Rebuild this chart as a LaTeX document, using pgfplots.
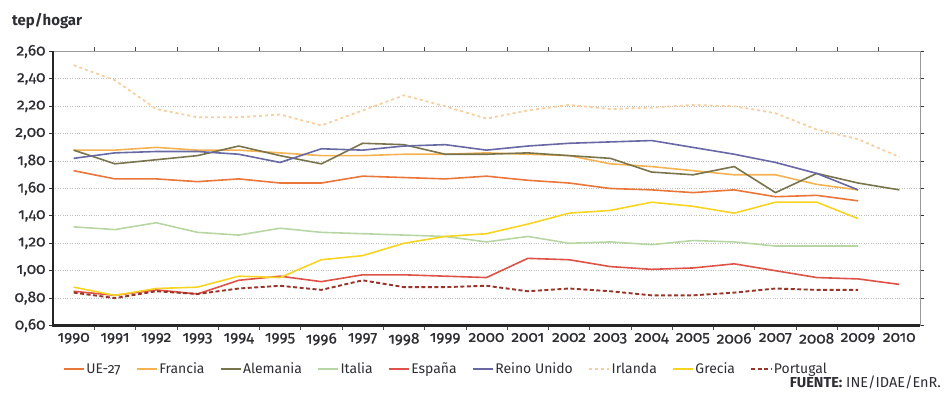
\documentclass[border=0pt]{standalone}
\usepackage{fontspec}
\setmainfont{Fira Sans}[Numbers=OldStyle]
\newfontfamily\tickfont{Fira Sans}[Numbers=OldStyle, FakeBold=0.6]
\usepackage{pgfplots}
\usepackage{pgfplotstable}
\pgfplotsset{compat=1.18}

\definecolor{cUE}{RGB}{234,118,58}
\definecolor{cFR}{RGB}{246,178,82}
\definecolor{cDE}{RGB}{122,116,76}
\definecolor{cIT}{RGB}{184,214,164}
\definecolor{cES}{RGB}{222,82,72}
\definecolor{cUK}{RGB}{104,104,164}
\definecolor{cIE}{RGB}{249,206,160}
\definecolor{cGR}{RGB}{248,212,34}
\definecolor{cPT}{RGB}{152,52,40}
\definecolor{txt}{RGB}{45,45,52}

% Consumo de energia por hogar (tep/hogar)
\pgfplotstableread{
year UE27 Francia Alemania Italia Espana ReinoUnido Irlanda Grecia Portugal
1990 1.73 1.88 1.88 1.32 0.85 1.82 2.50 0.88 0.84
1991 1.67 1.88 1.78 1.30 0.82 1.86 2.39 0.82 0.80
1992 1.67 1.90 1.81 1.35 0.86 1.87 2.18 0.87 0.85
1993 1.65 1.88 1.84 1.28 0.83 1.87 2.12 0.88 0.83
1994 1.67 1.88 1.91 1.26 0.93 1.85 2.12 0.96 0.87
1995 1.64 1.86 1.84 1.31 0.96 1.79 2.14 0.95 0.89
1996 1.64 1.84 1.78 1.28 0.92 1.89 2.06 1.08 0.86
1997 1.69 1.84 1.93 1.27 0.97 1.88 2.17 1.11 0.93
1998 1.68 1.85 1.92 1.26 0.97 1.91 2.28 1.20 0.88
1999 1.67 1.85 1.85 1.25 0.96 1.92 2.20 1.25 0.88
2000 1.69 1.86 1.85 1.21 0.95 1.88 2.11 1.27 0.89
2001 1.66 1.85 1.86 1.25 1.09 1.91 2.17 1.34 0.85
2002 1.64 1.84 1.84 1.20 1.08 1.93 2.21 1.42 0.87
2003 1.60 1.78 1.82 1.21 1.03 1.94 2.18 1.44 0.85
2004 1.59 1.76 1.72 1.19 1.01 1.95 2.19 1.50 0.82
2005 1.57 1.73 1.70 1.22 1.02 1.90 2.21 1.47 0.82
2006 1.59 1.70 1.76 1.21 1.05 1.85 2.20 1.42 0.84
2007 1.54 1.70 1.57 1.18 1.00 1.79 2.15 1.50 0.87
2008 1.55 1.63 1.71 1.18 0.95 1.71 2.03 1.50 0.86
2009 1.51 1.59 1.64 1.18 0.94 1.59 1.96 1.38 0.86
2010 nan  nan  1.59 nan  0.90 nan  1.83 nan  nan
}\datos

\begin{document}
\begin{tikzpicture}
\path[use as bounding box] (0,0) rectangle (944bp,399bp);
\node[anchor=west, font=\bfseries\fontsize{15}{18}\selectfont, text=txt, inner sep=0pt]
  at (12bp,378bp) {tep/hogar};
\node[anchor=east, font=\fontsize{14.5}{17}\selectfont, text=txt, inner sep=0pt]
  at (941bp,17bp) {\textbf{FUENTE:} INE/IDAE/EnR.};
\begin{axis}[
  at={(53bp,73.5bp)}, anchor=south west,
  scale only axis, width=867bp, height=274bp,
  xmin=1989.5, xmax=2010.5,
  ymin=0.6, ymax=2.6,
  xtick={1990,...,2010},
  minor xtick={1990.5,1991.5,...,2009.5},
  ytick={0.6,0.8,...,2.61},
  tick align=outside,
  major tick length=4bp, minor tick length=4bp,
  x tick style={draw=none},
  minor x tick style={draw=black!70, line width=0.6bp},
  y tick style={draw=black!80, line width=0.8bp},
  ymajorgrids,
  major grid style={dotted, black!25, line width=0.9bp},
  axis line style={draw=black!40, line width=0.8bp},
  /pgf/number format/assume math mode=true,
  /pgf/number format/1000 sep={},
  yticklabel style={/pgf/number format/.cd, fixed, fixed zerofill, precision=2, use comma},
  tick label style={font=\tickfont\fontsize{15.5}{19}\selectfont, text=txt},
  every axis plot/.append style={line width=1.6bp},
  legend columns=9,
  legend style={at={(0.0115,-0.159)}, anchor=west, draw=none, fill=none,
    inner sep=0pt, font=\fontsize{14}{17}\selectfont, text=txt,
    column sep=0pt,
    nodes={inner sep=1.5bp},
    /tikz/every even column/.append style={column sep=14bp}},
  legend image code/.code={\draw[#1] (0bp,0bp) -- (20bp,0bp);},
  clip=false,
]
\addplot[cUE] table[x=year, y=UE27] {\datos};
\addplot[cFR] table[x=year, y=Francia] {\datos};
\addplot[cDE] table[x=year, y=Alemania] {\datos};
\addplot[cIT] table[x=year, y=Italia] {\datos};
\addplot[cES] table[x=year, y=Espana] {\datos};
\addplot[cUK] table[x=year, y=ReinoUnido] {\datos};
\addplot[cIE, dash pattern=on 3bp off 3bp, line width=1.8bp] table[x=year, y=Irlanda] {\datos};
\addplot[cGR] table[x=year, y=Grecia] {\datos};
\addplot[cPT, dash pattern=on 4bp off 2.5bp, line width=1.9bp] table[x=year, y=Portugal] {\datos};
\legend{UE-27, Francia, Alemania, Italia, España, Reino Unido, Irlanda, Grecia, Portugal}
% left and bottom axis lines drawn heavier
\draw[line width=2.4bp, black!85] (rel axis cs:0,1) -- (rel axis cs:0,0) -- (rel axis cs:1,0);
\end{axis}
\end{tikzpicture}
\end{document}
